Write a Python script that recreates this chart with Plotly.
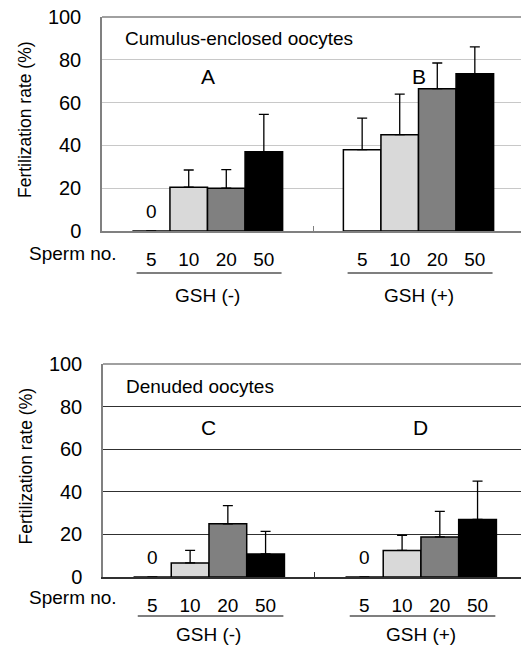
import plotly.graph_objects as go

# ---------------- data ----------------
groups = ["GSH (-)", "GSH (+)"]
sperm_labels = ["5", "10", "20", "50"]
bar_colors = ["#ffffff", "#d9d9d9", "#808080", "#000000"]

# Cumulus-enclosed oocytes (top panel): mean and upper SEM per sperm number, [GSH(-), GSH(+)]
ce_mean_5 = [0, 38]
ce_mean_10 = [20.5, 45]
ce_mean_20 = [20, 66.5]
ce_mean_50 = [37, 73.5]
ce_err_5 = [0, 14.7]
ce_err_10 = [8, 19]
ce_err_20 = [8.7, 12]
ce_err_50 = [17.5, 12.5]

# Denuded oocytes (bottom panel)
dn_mean_5 = [0, 0]
dn_mean_10 = [6.6, 12.5]
dn_mean_20 = [25, 18.8]
dn_mean_50 = [10.8, 27]
dn_err_5 = [None, None]
dn_err_10 = [5.9, 7.1]
dn_err_20 = [8.5, 12]
dn_err_50 = [10.6, 18]

panel_titles = ["Cumulus-enclosed oocytes", "Denuded oocytes"]
panel_letters = [["A", "B"], ["C", "D"]]
y_ticks = [0, 20, 40, 60, 80, 100]

# ---------------- layout geometry ----------------
W, H = 521, 647
FONT = "Liberation Sans, Arial, sans-serif"
bw = 0.178  # bar width in category units

def bar_x(g, k):
    return g + (k - 1.5) * bw

panels = [
    dict(means=[ce_mean_5, ce_mean_10, ce_mean_20, ce_mean_50],
         errs=[ce_err_5, ce_err_10, ce_err_20, ce_err_50],
         left=102, top=17, bottom=231, right_units=1.4858,
         grid="#c8c8c8", base="#808080", title_y=90, letter_y=72,
         tick_y=253, line_y=273, gsh_y=295),
    dict(means=[dn_mean_5, dn_mean_10, dn_mean_20, dn_mean_50],
         errs=[dn_err_5, dn_err_10, dn_err_20, dn_err_50],
         left=103, top=364, bottom=577, right_units=1.472,
         grid="#303030", base="#303030", title_y=89.5, letter_y=70,
         tick_y=597, line_y=616, gsh_y=634),
]

fig = go.Figure()
annotations = []
shapes = []

for p_i, p in enumerate(panels):
    xa = "x" if p_i == 0 else "x2"
    ya = "y" if p_i == 0 else "y2"
    for k in range(4):
        xs = [bar_x(g, k) for g in range(2)]
        errs = p["errs"][k]
        fig.add_trace(go.Bar(
            x=xs, y=p["means"][k], width=[bw, bw],
            marker=dict(color=bar_colors[k], line=dict(color="#000000", width=1.5)),
            error_y=dict(type="data", symmetric=False,
                         array=[e if e is not None else 0 for e in errs],
                         arrayminus=[0, 0], color="#000000", thickness=1.3, width=5,
                         visible=True),
            xaxis=xa, yaxis=ya, showlegend=False, hoverinfo="skip",
        ))
        # "0" labels for zero bars
        for g in range(2):
            if p["means"][k][g] == 0:
                annotations.append(dict(
                    x=bar_x(g, k), y=0, xref=xa, yref=ya, text="0", showarrow=False,
                    yanchor="middle", yshift=20, font=dict(size=19, color="#000000")))

    dom_x = [p["left"] / W, 1]
    dom_y = [1 - p["bottom"] / H, 1 - p["top"] / H]
    tickvals = [bar_x(g, k) for g in range(2) for k in range(4)]
    ticktext = sperm_labels * 2
    xkey = "xaxis" if p_i == 0 else "xaxis2"
    ykey = "yaxis" if p_i == 0 else "yaxis2"
    fig.layout[xkey] = dict(
        domain=dom_x, anchor=ya, range=[-0.5, p["right_units"]],
        automargin=False,
        showline=True, linecolor=p["base"], linewidth=1.5,
        showgrid=False, zeroline=False,
        tickmode="array", tickvals=tickvals, ticktext=ticktext, ticks="",
        ticklabelstandoff=10,
        tickfont=dict(size=19, color="#000000", family=FONT),
        minor=dict(tickmode="array", tickvals=[0.5], ticks="inside", ticklen=5,
                   tickcolor=p["base"], tickwidth=1, showgrid=False),
    )
    fig.layout[ykey] = dict(
        domain=dom_y, anchor=xa, range=[0, 100],
        automargin=False,
        tickmode="array", tickvals=y_ticks,
        showline=True, linecolor="#808080", linewidth=1.5,
        showgrid=True, gridcolor=p["grid"], gridwidth=1,
        zeroline=False, ticks="", ticklabelstandoff=15,
        tickfont=dict(size=20, color="#000000", family=FONT),
    )
    # top border
    shapes.append(dict(type="line", xref="paper", yref="paper",
                       x0=dom_x[0], x1=1, y0=dom_y[1], y1=dom_y[1],
                       line=dict(color="#808080", width=1.5)))
    # panel title
    annotations.append(dict(x=-0.5 + 21 / 211, y=p["title_y"], xref=xa, yref=ya,
                            text=panel_titles[p_i], showarrow=False, xanchor="left",
                            yanchor="middle", font=dict(size=19, color="#000000")))
    # letters
    for g in range(2):
        annotations.append(dict(x=g, y=p["letter_y"], xref=xa, yref=ya,
                                text=panel_letters[p_i][g], showarrow=False,
                                yanchor="middle", font=dict(size=21, color="#000000")))
    # y title
    annotations.append(dict(x=25 / W, y=1 - ((p["top"] + p["bottom"]) / 2 - 4) / H,
                            xref="paper", yref="paper", text="Fertilization rate (%)",
                            textangle=-90, showarrow=False, xanchor="center",
                            yanchor="middle", font=dict(size=17.5, color="#000000")))
    # Sperm no.
    annotations.append(dict(x=73 / W, y=1 - p["tick_y"] / H, xref="paper", yref="paper",
                            text="Sperm no.", showarrow=False, xanchor="center",
                            yanchor="middle", font=dict(size=19, color="#000000")))
    # group underline + group labels
    for g in range(2):
        x0 = bar_x(g, 0) - bw / 2 + 0.02
        x1 = bar_x(g, 3) + bw / 2 - 0.005
        shapes.append(dict(type="line", xref=xa, yref="paper",
                           x0=x0, x1=x1, y0=1 - p["line_y"] / H, y1=1 - p["line_y"] / H,
                           line=dict(color="#000000", width=1.2)))
        annotations.append(dict(x=g, y=1 - p["gsh_y"] / H, xref=xa, yref="paper",
                                text=groups[g], showarrow=False, xanchor="center",
                                yanchor="middle", font=dict(size=19, color="#000000")))

fig.update_layout(
    width=W, height=H, margin=dict(l=0, r=0, t=0, b=0, autoexpand=False),
    paper_bgcolor="#ffffff", plot_bgcolor="#ffffff",
    barmode="overlay", font=dict(family=FONT, color="#000000"),
    annotations=annotations, shapes=shapes,
)

fig.write_html("out.html", config={"responsive": False, "displayModeBar": False},
               default_width=f"{W}px", default_height=f"{H}px",
               post_script="document.body.style.margin='0px';document.body.style.overflow='hidden';")
